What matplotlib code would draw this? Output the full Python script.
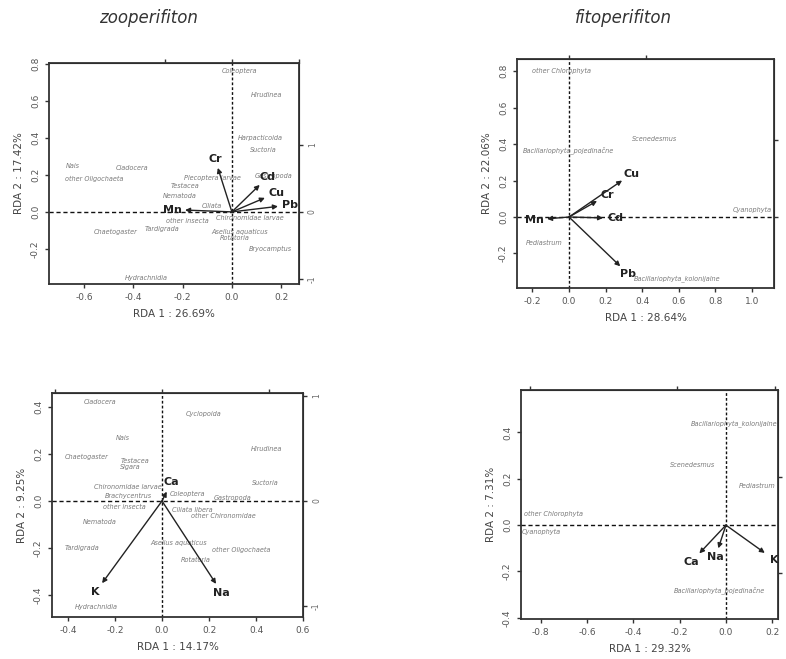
import numpy as np
import matplotlib
matplotlib.use("Agg")
from matplotlib import pyplot as plt

# --- zooperifiton, metals (top left) ---
z1_env = ["Cr", "Cd", "Cu", "Pb", "Mn"]
z1_env_x = [-0.057, 0.113, 0.134, 0.187, -0.19]
z1_env_y = [0.238, 0.146, 0.076, 0.03, 0.01]
z1_sp = ["Coleoptera", "Hirudinea", "Harpacticoida", "Suctoria", "Gastropoda", "Nais",
         "other Oligochaeta", "Cladocera", "Plecoptera larvae", "Testacea", "Nematoda",
         "Ciliata", "other insecta", "Chironomidae larvae", "Tardigrada", "Chaetogaster",
         "Asellus aquaticus", "Rotatoria", "Bryocamptus", "Hydrachnidia"]
z1_sp_x = [0.03, 0.14, 0.115, 0.127, 0.17, -0.645, -0.56, -0.405, -0.077, -0.19, -0.21,
           -0.08, -0.18, 0.075, -0.285, -0.47, 0.03, 0.01, 0.155, -0.345]
z1_sp_y = [0.76, 0.63, 0.40, 0.335, 0.195, 0.25, 0.18, 0.24, 0.184, 0.14, 0.086,
           0.03, -0.05, -0.035, -0.09, -0.11, -0.11, -0.14, -0.20, -0.355]

# --- fitoperifiton, metals (top right) ---
f1_env = ["Cu", "Cr", "Cd", "Mn", "Pb"]
f1_env_x = [0.29, 0.153, 0.186, -0.12, 0.28]
f1_env_y = [0.20, 0.088, -0.005, -0.01, -0.27]
f1_sp = ["other Chlorophyta", "Bacillariophyta_pojedinačne", "Scenedesmus", "Cyanophyta",
         "Pediastrum", "Bacillariophyta_kolonijalne"]
f1_sp_x = [-0.04, -0.005, 0.47, 1.0, -0.137, 0.59]
f1_sp_y = [0.80, 0.367, 0.43, 0.038, -0.14, -0.34]

# --- zooperifiton, K / Na / Ca (bottom left) ---
z2_env = ["K", "Na", "Ca"]
z2_env_x = [-0.255, 0.23, 0.02]
z2_env_y = [-0.35, -0.353, 0.04]
z2_sp = ["Cladocera", "Cyclopoida", "Nais", "Chaetogaster", "Testacea", "Sigara",
         "Hirudinea", "Suctoria", "Chironomidae larvae", "Brachycentrus", "Coleoptera",
         "Gastropoda", "other insecta", "Ciliata libera", "other Chironomidae", "Nematoda",
         "Tardigrada", "Asellus aquaticus", "other Oligochaeta", "Rotatoria", "Hydrachnidia"]
z2_sp_x = [-0.264, 0.176, -0.168, -0.32, -0.115, -0.133, 0.445, 0.44, -0.147, -0.143,
           0.108, 0.30, -0.16, 0.13, 0.26, -0.264, -0.342, 0.07, 0.336, 0.144, -0.278]
z2_sp_y = [0.423, 0.369, 0.269, 0.186, 0.17, 0.143, 0.22, 0.075, 0.058, 0.021,
           0.028, 0.012, -0.027, -0.038, -0.062, -0.091, -0.199, -0.177, -0.209, -0.251, -0.452]

# --- fitoperifiton, K / Na / Ca (bottom right) ---
f2_env = ["Ca", "Na", "K"]
f2_env_x = [-0.115, -0.033, 0.168]
f2_env_y = [-0.122, -0.10, -0.12]
f2_sp = ["Bacillariophyta_kolonijalne", "Scenedesmus", "Pediastrum", "other Chlorophyta",
         "Cyanophyta", "Bacillariophyta_pojedinačne"]
f2_sp_x = [0.035, -0.145, 0.134, -0.745, -0.80, -0.03]
f2_sp_y = [0.44, 0.26, 0.168, 0.05, -0.029, -0.28]

panels = [
    dict(rect=[0.0623, 0.569, 0.318, 0.3354], xlim=(-0.742, 0.272), ylim=(-0.39, 0.805),
         xt=[-0.6, -0.4, -0.2, 0.0, 0.2], yt=[-0.2, 0.0, 0.2, 0.4, 0.6, 0.8],
         xl="RDA 1 : 26.69%", yl="RDA 2 : 17.42%", k=(0.2716, 0.362),
         top=[-1, 0, 1], right=[-1, 0, 1], rlab=True,
         env=(z1_env, z1_env_x, z1_env_y), sp=(z1_sp, z1_sp_x, z1_sp_y)),
    dict(rect=[0.6578, 0.563, 0.327, 0.3475], xlim=(-0.284, 1.12), ylim=(-0.389, 0.866),
         xt=[-0.2, 0.0, 0.2, 0.4, 0.6, 0.8, 1.0], yt=[-0.2, 0.0, 0.2, 0.4, 0.6, 0.8],
         xl="RDA 1 : 28.64%", yl="RDA 2 : 22.06%", k=(0.42, 0.42),
         top=[0, 1], right=[0, 1], rlab=False,
         env=(f1_env, f1_env_x, f1_env_y), sp=(f1_sp, f1_sp_x, f1_sp_y)),
    dict(rect=[0.0662, 0.0637, 0.3193, 0.340], xlim=(-0.468, 0.60), ylim=(-0.494, 0.46),
         xt=[-0.4, -0.2, 0.0, 0.2, 0.4, 0.6], yt=[-0.4, -0.2, 0.0, 0.2, 0.4],
         xl="RDA 1 : 14.17%", yl="RDA 2 : 9.25%", k=(0.455, 0.449),
         top=[-1, 0, 1], right=[-1, 0, 1], rlab=True,
         env=(z2_env, z2_env_x, z2_env_y), sp=(z2_sp, z2_sp_x, z2_sp_y)),
    dict(rect=[0.6628, 0.0607, 0.327, 0.3475], xlim=(-0.886, 0.225), ylim=(-0.405, 0.583),
         xt=[-0.8, -0.6, -0.4, -0.2, 0.0, 0.2], yt=[-0.4, -0.2, 0.0, 0.2, 0.4],
         xl="RDA 1 : 29.32%", yl="RDA 2 : 7.31%", k=(0.2117, 0.207),
         top=[-4, -1, 1], right=[-1, 1], rlab=False,
         env=(f2_env, f2_env_x, f2_env_y), sp=(f2_sp, f2_sp_x, f2_sp_y)),
]

fig = plt.figure(figsize=(7.86, 6.59), dpi=100)

for p in panels:
    ax = fig.add_axes(p["rect"])
    ax.set_xlim(p["xlim"])
    ax.set_ylim(p["ylim"])
    ax.set_xticks(p["xt"])
    ax.set_yticks(p["yt"])
    ax.set_xticklabels([f"{v:.1f}" for v in p["xt"]])
    ax.set_yticklabels([f"{v:.1f}" for v in p["yt"]], rotation=90, va="center")
    ax.tick_params(labelsize=6.5, labelcolor="#555555", color="#333333", length=3, width=1)
    for s in ax.spines.values():
        s.set_linewidth(1.3)
        s.set_color("#333333")
    ax.set_xlabel(p["xl"], fontsize=7.5, color="#444444", labelpad=5)
    ax.set_ylabel(p["yl"], fontsize=7.5, color="#444444", labelpad=5)

    ax.axhline(0, color="#111111", lw=1, ls=(0, (3, 2)), zorder=1)
    ax.axvline(0, color="#111111", lw=1, ls=(0, (2, 1.5)), zorder=1)

    # secondary axes (arrow scale)
    kx, ky = p["k"]
    sx = ax.secondary_xaxis("top", functions=(lambda v, kx=kx: v / kx, lambda v, kx=kx: v * kx))
    sx.set_xticks(p["top"])
    sx.set_xticklabels([""] * len(p["top"]))
    sx.tick_params(length=3, width=1, color="#333333")
    sy = ax.secondary_yaxis("right", functions=(lambda v, ky=ky: v / ky, lambda v, ky=ky: v * ky))
    sy.set_yticks(p["right"])
    if p["rlab"]:
        sy.set_yticklabels([str(v) for v in p["right"]], rotation=90, va="center")
    else:
        sy.set_yticklabels([""] * len(p["right"]))
    sy.tick_params(length=3, width=1, color="#333333", labelsize=5.5, labelcolor="#666666")

    names, xs, ys = p["sp"]
    for n, x, y in zip(names, xs, ys):
        ax.text(x, y, n, fontsize=4.7, style="italic", color="#7a7a7a",
                ha="center", va="center", zorder=2)

    names, xs, ys = p["env"]
    fig.canvas.draw()
    o = ax.transData.transform((0, 0))
    for n, x, y in zip(names, xs, ys):
        ax.annotate("", xy=(x, y), xytext=(0, 0),
                    arrowprops=dict(arrowstyle="-|>", color="#222222", lw=1,
                                    mutation_scale=7, shrinkA=0, shrinkB=0), zorder=3)
        t = ax.transData.transform((x, y))
        d = (t - o) / np.hypot(*(t - o))
        off = 6 + 3 * abs(d[0])
        ax.annotate(n, xy=(x, y), xytext=(d[0] * off, d[1] * off), textcoords="offset points",
                    ha="center", va="center", fontsize=8, fontweight="bold",
                    color="#222222", zorder=4)

fig.text(148 / 786, 1 - 18 / 659, "zooperifiton", fontsize=12, style="italic",
         color="#333333", ha="center", va="center")
fig.text(623 / 786, 1 - 18 / 659, "fitoperifiton", fontsize=12, style="italic",
         color="#333333", ha="center", va="center")

fig.savefig("out.png", dpi=100)
